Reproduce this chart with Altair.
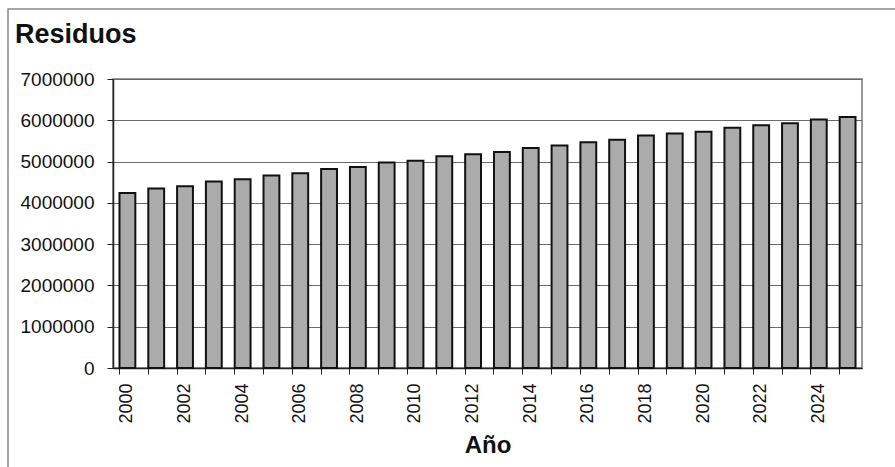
import altair as alt
import pandas as pd

years = list(range(2000, 2026))
residuos = [4240000, 4350000, 4400000, 4520000, 4570000, 4660000, 4720000, 4820000,
            4870000, 4980000, 5020000, 5130000, 5180000, 5230000, 5330000, 5390000,
            5470000, 5530000, 5630000, 5680000, 5720000, 5820000, 5880000, 5930000,
            6020000, 6080000]
y_ticks = [0, 1000000, 2000000, 3000000, 4000000, 5000000, 6000000, 7000000]
chart_title = "Residuos"

df = pd.DataFrame({"year": years, "residuos": residuos})

FONT = "Liberation Sans"

ys = alt.Scale(domain=[0, 7000000], nice=False)

bars = alt.Chart(df).mark_bar(
    fill="#ababab", stroke="#111111", strokeWidth=2
).encode(
    x=alt.X("year:O", scale=alt.Scale(paddingInner=0.45, paddingOuter=0.225),
            axis=alt.Axis(title="Año", orient="bottom", labelAngle=-90, ticks=False,
                          labelExpr="datum.value % 2 == 0 ? datum.label : ''",
                          labelFont=FONT, labelFontSize=18, labelColor="#111",
                          labelPadding=15, domainColor="#222", domainWidth=1.5,
                          titleFont=FONT, titleFontSize=24, titleFontWeight="bold",
                          titleColor="#111", titlePadding=10, labelOverlap=False,
                          grid=False)),
    y=alt.Y("residuos:Q", scale=ys,
            axis=alt.Axis(title=None, values=y_ticks, format="d",
                          labelFont=FONT, labelFontSize=19, labelColor="#111",
                          labelPadding=13, tickSize=6, tickColor="#222",
                          domainColor="#222", domainWidth=1.5,
                          gridColor="#6a6a6a", gridWidth=1))
)

ticks_layer = alt.Chart(df).mark_rule(opacity=0).encode(
    x=alt.X("year:O", axis=alt.Axis(title=None, orient="bottom", labels=False,
                                    ticks=True, bandPosition=0, tickSize=6,
                                    tickColor="#222", domain=False, grid=False))
)

one = pd.DataFrame({"t": [chart_title]})

frame = alt.Chart(one).mark_rect(
    fill=None, stroke="#8a8a8a", strokeWidth=1.5
).encode(
    x=alt.value(-105), y=alt.value(-70), x2=alt.value(900), y2=alt.value(500)
)

title_text = alt.Chart(one).mark_text(
    align="left", baseline="alphabetic", font=FONT, fontSize=27,
    fontWeight="bold", color="#111"
).encode(x=alt.value(-98), y=alt.value(-36), text="t:N")

chart = alt.layer(frame, title_text, bars, ticks_layer).resolve_axis(
    x="independent"
).properties(
    width=749, height=289,
    autosize=alt.AutoSizeParams(type="none"),
    padding={"left": 113, "top": 79, "right": 33, "bottom": 99},
    background="white"
).configure_view(stroke="#777", strokeWidth=1.5)

chart.save("out.html", embed_options={"renderer": "svg", "actions": False})
